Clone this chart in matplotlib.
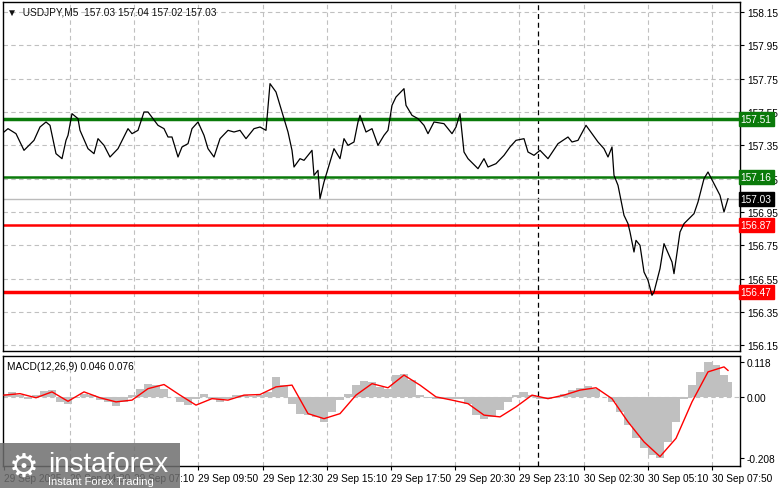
import matplotlib
matplotlib.use("Agg")
import matplotlib.pyplot as plt
from matplotlib.patches import Rectangle

plt.rcParams['font.family'] = ['Liberation Sans', 'DejaVu Sans']

# ---- data ----
price_idx = [0,2,6,10,15,18,21,23,26,29,31,32,34,37,38,42,45,47,50,53,57,62,64,67,70,72,77,80,82,84,87,89,92,94,97,100,102,105,108,112,115,118,121,125,128,
             131,133,136,140,142,144,145,148,150,154,155,157,158,160,162,165,168,170,172,175,177,178,181,184,187,190,192,194,196,200,201,204,207,210,212,215,220,224,226,228,230,232,237,240,242,246,250,253,
             256,260,262,265,268,272,277,282,284,287,291,294,297,300,302,304,305,307,310,312,313,315,316,318,320,322,324,325,328,330,334,335,338,340,345,347,350,352,355,358,360,362]
price_val = [157.43,157.45,157.42,157.32,157.38,157.46,157.49,157.47,157.30,157.27,157.38,157.41,157.54,157.51,157.44,157.33,157.30,157.39,157.35,157.28,157.33,157.45,157.42,157.44,157.55,157.55,157.47,157.45,157.40,157.40,157.28,157.34,157.36,157.45,157.49,157.41,157.33,157.28,157.39,157.44,157.43,157.44,157.39,157.45,157.46,
             157.44,157.72,157.67,157.51,157.43,157.32,157.22,157.27,157.26,157.32,157.17,157.20,157.03,157.13,157.21,157.33,157.27,157.39,157.35,157.37,157.49,157.53,157.43,157.45,157.35,157.41,157.44,157.59,157.64,157.69,157.59,157.53,157.51,157.47,157.42,157.49,157.48,157.42,157.46,157.54,157.31,157.27,157.21,157.27,157.22,157.24,157.29,157.34,
             157.38,157.39,157.31,157.29,157.32,157.27,157.36,157.40,157.37,157.38,157.47,157.42,157.37,157.33,157.28,157.34,157.17,157.11,156.93,156.88,156.83,156.71,156.78,156.75,156.59,156.54,156.45,156.47,156.61,156.76,156.65,156.58,156.83,156.88,156.94,157.01,157.15,157.19,157.12,157.05,156.95,157.03]

hist_val = [0.011,0.015,0.006,-0.006,0.008,0.019,0.023,-0.017,-0.023,-0.003,0.011,0.006,-0.011,-0.019,-0.031,-0.017,0.006,0.028,0.045,0.042,
            0.028,0.0,-0.017,-0.026,-0.006,0.011,-0.006,-0.017,-0.006,0.008,0.006,0.003,0.006,0.017,0.068,0.040,-0.023,-0.057,-0.062,-0.068,
            -0.085,-0.051,-0.011,0.011,0.040,0.053,0.051,0.034,0.028,0.074,0.079,0.057,0.006,-0.003,-0.006,-0.006,-0.008,-0.008,-0.023,-0.062,
            -0.074,-0.068,-0.045,-0.017,0.006,0.017,0.006,-0.006,-0.006,-0.003,0.011,0.023,0.031,0.037,0.028,0.0,-0.017,-0.051,-0.096,-0.141,
            -0.175,-0.198,-0.209,-0.153,-0.085,-0.006,0.040,0.085,0.119,0.107,0.074,0.051]
signal_val = [0.006,0.011,-0.003,0.017,-0.015,0.017,-0.003,-0.017,-0.011,0.028,0.042,0.006,-0.028,-0.006,-0.011,0.006,0.008,0.034,0.040,-0.057,
              -0.074,-0.057,0.006,0.045,0.031,0.074,0.040,0.0,-0.011,-0.023,-0.062,-0.068,-0.034,0.006,-0.006,0.006,0.023,0.031,-0.006,-0.085,
              -0.153,-0.203,-0.141,-0.017,0.085,0.102,0.090]
hist_idx = [4*k for k in range(len(hist_val))]
signal_idx = [8*k for k in range(len(signal_val) - 1)] + [362]

tick_idx = [0] + [33 + 32.1*k for k in range(11)]
tick_labels = ["29 Sep 2025", "29 Sep 04:30", "29 Sep 07:10", "29 Sep 09:50", "29 Sep 12:30", "29 Sep 15:10",
               "29 Sep 17:50", "29 Sep 20:30", "29 Sep 23:10", "30 Sep 02:30", "30 Sep 05:10", "30 Sep 07:50"]
price_ticks = [158.15, 157.95, 157.75, 157.55, 157.35, 157.15, 156.95, 156.75, 156.55, 156.35, 156.15]
levels = [157.51, 157.16, 156.87, 156.47]
level_colors = ["#0a7a0a", "#0a7a0a", "red", "red"]
level_widths = [2.5, 1.8, 1.8, 2.5]
last_price = 157.03
macd_ticks = [0.118, 0.0, -0.208]
vline_idx = 267

W, H = 781, 489
FS = 7.3
fig = plt.figure(figsize=(W/100, H/100), dpi=100)
fig.patch.set_facecolor("white")
L, R = 3/W, 740/W
ax = fig.add_axes([L, 1-352/H, R-L, (352-3)/H])
ax2 = fig.add_axes([L, 1-467/H, R-L, (467-357)/H])

xl = (-0.5, 368)
grid_kw = dict(color="#c0c0c0", linestyle=(0, (4, 3)), linewidth=0.8)
for a in (ax, ax2):
    a.set_xlim(*xl)
    for t in tick_idx[1:]:
        a.axvline(t, **grid_kw, zorder=0)
    a.axvline(vline_idx, color="black", linestyle=(0, (4, 3)), linewidth=0.9, zorder=1)
    for s in a.spines.values():
        s.set_linewidth(1.0)
    a.tick_params(axis="both", length=3, labelsize=FS, width=0.8, pad=2)
    a.yaxis.tick_right()

ax.set_ylim(156.116, 158.21)
for p in price_ticks:
    ax.axhline(p, **grid_kw, zorder=0)
ax.set_yticks(price_ticks)
ax.set_yticklabels([f"{p:.2f}" for p in price_ticks])
ax.set_xticks([])
ax.plot(price_idx, price_val, color="black", linewidth=0.9, zorder=3)
ax.axhline(last_price, color="#bbbbbb", linewidth=1.0, zorder=1)
for lv, c, lw in zip(levels, level_colors, level_widths):
    ax.axhline(lv, color=c, linewidth=lw, zorder=2)
for lv, c in zip(levels + [last_price], level_colors + ["black"]):
    ax.text(1.001, lv, f"{lv:.2f}", transform=ax.get_yaxis_transform(), va="center", ha="left",
            fontsize=FS, color="white", bbox=dict(boxstyle="square,pad=0.2", fc=c, ec=c), zorder=5, clip_on=False)
ax.text(0.005, 0.988, "\u25bc  USDJPY,M5  157.03 157.04 157.02 157.03", transform=ax.transAxes,
        va="top", ha="left", fontsize=FS, color="#111111")

ax2.set_ylim(-0.235, 0.139)
ax2.axhline(0, **grid_kw, zorder=0)
ax2.fill_between(hist_idx, hist_val, 0, color="#c0c0c0", linewidth=0, step="mid", zorder=2)
ax2.plot(signal_idx, signal_val, color="red", linewidth=1.0, zorder=3)
ax2.set_yticks(macd_ticks)
ax2.set_yticklabels(["0.118", "0.00", "-0.208"])
ax2.set_xticks(tick_idx)
ax2.set_xticklabels(tick_labels, ha="left", fontsize=FS)
ax2.text(0.005, 0.95, "MACD(12,26,9) 0.046 0.076", transform=ax2.transAxes, va="top", ha="left", fontsize=FS)

# watermark
fig.patches.append(Rectangle((0, 0), 180/W, 45/H, transform=fig.transFigure, fc="#6e6e6e", alpha=0.85, ec="none", zorder=10))
fig.text(48/W, 24/H, "instaforex", fontsize=20, color="white", ha="left", va="center", zorder=11)
fig.text(48/W, 7/H, "Instant Forex Trading", fontsize=8, color="white", ha="left", va="center", zorder=11)
fig.text(24/W, 22/H, "\u2699", family="DejaVu Sans", fontsize=24, color="white", ha="center", va="center", zorder=11)

fig.savefig("out.png", dpi=100)
